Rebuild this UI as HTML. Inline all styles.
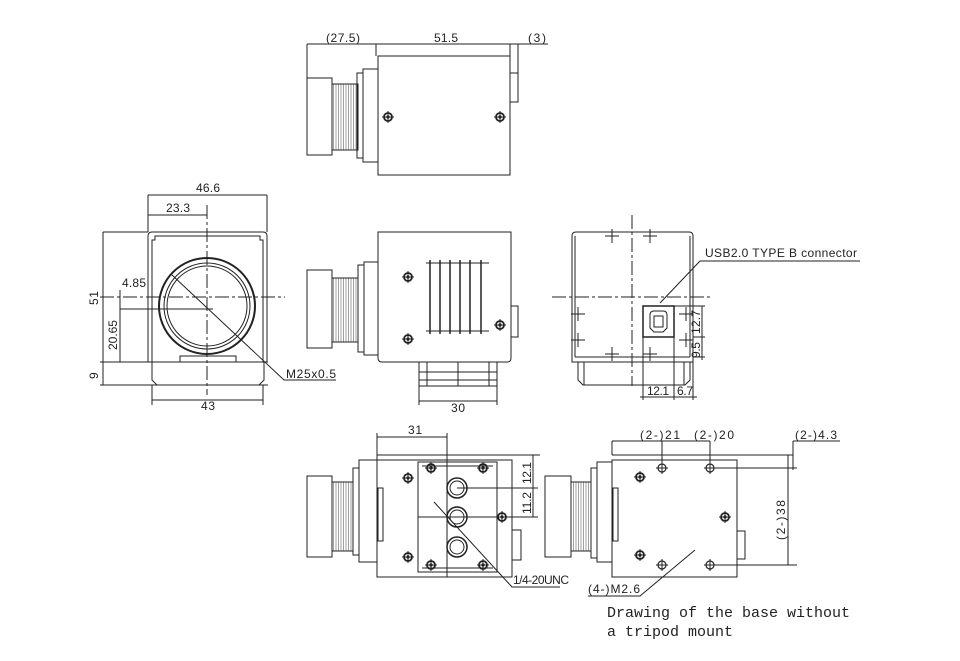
<!DOCTYPE html>
<html><head><meta charset="utf-8"><style>
html,body{margin:0;padding:0;background:#fff;}
svg{display:block}
text{font-family:"Liberation Sans",sans-serif;fill:#222;font-size:12px}
.m{font-family:"Liberation Mono",monospace;font-size:15px}
</style></head><body>
<svg width="960" height="661" viewBox="0 0 960 661" xmlns="http://www.w3.org/2000/svg">
<defs>
<pattern id="th" width="2.5" height="4" patternUnits="userSpaceOnUse"><rect width="2.5" height="4" fill="#fff"/><line x1="1" y1="0" x2="1" y2="4" stroke="#777" stroke-width="0.7"/></pattern>
<g id="scr"><circle r="4" fill="none" stroke="#222" stroke-width="1.8"/><circle r="1.6" fill="#222"/><line x1="-6" y1="0" x2="6" y2="0" stroke="#222"/><line x1="0" y1="-6" x2="0" y2="6" stroke="#222"/></g>
<g id="hol"><circle r="4" fill="none" stroke="#222" stroke-width="1.2"/><line x1="-6" y1="0" x2="6" y2="0" stroke="#222"/><line x1="0" y1="-6" x2="0" y2="6" stroke="#222"/></g>
<g id="crs"><line x1="-7" y1="0" x2="7" y2="0" stroke="#222"/><line x1="0" y1="-7" x2="0" y2="7" stroke="#222"/></g>
</defs>
<g fill="none" stroke="#222" stroke-width="1">
<!-- TOP VIEW -->
<rect x="307" y="78" width="25" height="77"/>
<rect x="332" y="84" width="26" height="66" fill="url(#th)"/>
<rect x="357" y="73" width="6" height="85"/>
<rect x="363" y="69" width="15" height="93"/>
<rect x="378" y="56" width="132" height="119"/>
<rect x="510" y="73" width="8" height="29"/>
<line x1="307" y1="44" x2="548" y2="44"/>
<line x1="307" y1="44" x2="307" y2="78"/>
<line x1="376" y1="44" x2="376" y2="56"/>
<line x1="510" y1="44" x2="510" y2="56"/>
<line x1="518" y1="44" x2="518" y2="73"/>
<!-- FRONT VIEW -->
<path d="M148 362 V236 Q148 232 152 232 H263 Q267 232 267 236 V362"/>
<path d="M152 362 V240 H155 V236 H260 V240 H263 V362"/>
<path d="M152 362 V380 L157 385 H259 L264 380 V362"/>
<line x1="100" y1="362" x2="268" y2="362"/>
<line x1="100" y1="385" x2="268" y2="385"/>
<rect x="180" y="356" width="56" height="6"/>
<circle cx="207" cy="306" r="48" stroke-width="2"/>
<circle cx="207" cy="306" r="43"/>
<circle cx="207" cy="306" r="40"/>
<line x1="100" y1="297" x2="285" y2="297" stroke-dasharray="14,3,3,3"/>
<line x1="207" y1="205" x2="207" y2="395" stroke-dasharray="14,3,3,3"/>
<line x1="120" y1="309" x2="213" y2="309"/>
<line x1="148" y1="195" x2="267" y2="195"/>
<line x1="148" y1="195" x2="148" y2="232"/>
<line x1="267" y1="195" x2="267" y2="232"/>
<line x1="148" y1="215" x2="207" y2="215"/>
<line x1="103" y1="232" x2="148" y2="232"/>
<line x1="103" y1="232" x2="103" y2="385"/>
<line x1="120" y1="290" x2="120" y2="362"/>
<line x1="152" y1="385" x2="152" y2="405"/>
<line x1="263" y1="385" x2="263" y2="405"/>
<line x1="152" y1="400" x2="263" y2="400"/>
<path d="M172 275 L284 380 H336"/>
<!-- SIDE VIEW -->
<rect x="307" y="270" width="25" height="78"/>
<rect x="332" y="278" width="26" height="64" fill="url(#th)"/>
<rect x="358" y="265" width="6" height="87"/>
<rect x="364" y="262" width="14" height="93"/>
<path d="M378 232 H511 V358 Q511 362 507 362 H382 Q378 362 378 358 Z"/>
<rect x="511" y="306" width="7" height="31"/>
<line x1="426" y1="263" x2="489" y2="263"/>
<line x1="426" y1="331" x2="489" y2="331"/>
<g stroke-width="1.5"><line x1="430" y1="260" x2="430" y2="334"/><line x1="440" y1="260" x2="440" y2="334"/><line x1="450" y1="260" x2="450" y2="334"/><line x1="460" y1="260" x2="460" y2="334"/><line x1="470" y1="260" x2="470" y2="334"/><line x1="481" y1="260" x2="481" y2="334"/></g>
<path d="M419 362 V386 H497 V362"/>
<line x1="419" y1="372" x2="497" y2="372"/><line x1="419" y1="380" x2="497" y2="380"/>
<line x1="427" y1="362" x2="427" y2="386"/><line x1="489" y1="362" x2="489" y2="386"/>
<line x1="458" y1="362" x2="458" y2="386"/>
<line x1="419" y1="386" x2="419" y2="405"/><line x1="497" y1="386" x2="497" y2="405"/>
<line x1="419" y1="401" x2="497" y2="401"/>
<!-- RIGHT VIEW -->
<path d="M572 362 V236 Q572 232 576 232 H689 Q693 232 693 236 V362 Z"/>
<line x1="575" y1="357" x2="690" y2="357"/>
<line x1="575" y1="236" x2="575" y2="357"/><line x1="690" y1="236" x2="690" y2="357"/>
<path d="M578 362 V380 L583 385 H685 L690 380 V362"/>
<line x1="584" y1="362" x2="584" y2="385"/><line x1="684" y1="362" x2="684" y2="385"/>
<line x1="632" y1="215" x2="632" y2="386" stroke-dasharray="14,3,3,3"/>
<line x1="552" y1="297" x2="712" y2="297" stroke-dasharray="14,3,3,3"/>
<rect x="643" y="306" width="31" height="31" stroke-width="1.5"/>
<line x1="643" y1="337" x2="643" y2="400"/><line x1="674" y1="337" x2="674" y2="400"/><line x1="693" y1="362" x2="693" y2="400"/>
<path d="M650 315 Q650 311 654 311 H663 Q667 311 667 315 V328 L663 332 H654 L650 328 Z"/>
<rect x="654" y="316" width="9" height="11"/>
<line x1="674" y1="306" x2="705" y2="306"/><line x1="693" y1="337" x2="705" y2="337"/><line x1="693" y1="357" x2="705" y2="357"/>
<line x1="702" y1="306" x2="702" y2="360"/>
<line x1="640" y1="397" x2="697" y2="397"/>
<path d="M660 303 L700 261 H860"/>
<use href="#crs" x="612" y="236"/><use href="#crs" x="650" y="236"/>
<use href="#crs" x="578" y="314"/><use href="#crs" x="578" y="340"/>
<use href="#crs" x="686" y="314"/><use href="#crs" x="686" y="340"/>
<use href="#crs" x="612" y="354"/><use href="#crs" x="650" y="354"/>
<!-- BOTTOM LEFT -->
<rect x="307" y="476" width="25" height="81"/>
<rect x="332" y="482" width="21" height="69" fill="url(#th)"/>
<rect x="353" y="468" width="6" height="87"/>
<rect x="359" y="460" width="18" height="102"/>
<rect x="377" y="460" width="135" height="117"/>
<line x1="377" y1="455" x2="540" y2="455"/>
<line x1="377" y1="455" x2="377" y2="460"/>
<rect x="378" y="488" width="5" height="53"/>
<rect x="418" y="462" width="79" height="110"/>
<line x1="422" y1="466" x2="493" y2="466"/><line x1="422" y1="568" x2="493" y2="568"/>
<rect x="512" y="530" width="9" height="30"/>
<line x1="447" y1="433" x2="447" y2="577"/>
<line x1="418" y1="517" x2="512" y2="517"/>
<line x1="457" y1="488" x2="538" y2="488"/><line x1="500" y1="517" x2="538" y2="517"/>
<line x1="533" y1="455" x2="533" y2="517"/>
<line x1="377" y1="437" x2="447" y2="437"/><line x1="377" y1="433" x2="377" y2="455"/>
<circle cx="457" cy="488" r="10" stroke-width="1.5"/><circle cx="457" cy="488" r="7"/>
<circle cx="457" cy="517" r="10" stroke-width="1.5"/><circle cx="457" cy="517" r="7"/>
<circle cx="457" cy="547" r="10" stroke-width="1.5"/><circle cx="457" cy="547" r="7"/>
<path d="M434 502 L512 587 H560"/>
<!-- BOTTOM RIGHT -->
<rect x="545" y="476" width="26" height="81"/>
<rect x="571" y="482" width="20" height="69" fill="url(#th)"/>
<rect x="591" y="468" width="6" height="90"/>
<rect x="597" y="462" width="15" height="100"/>
<rect x="612" y="460" width="125" height="117"/>
<line x1="612" y1="455" x2="793" y2="455"/>
<rect x="613" y="488" width="5" height="53"/>
<rect x="737" y="531" width="8" height="28"/>
<line x1="612" y1="441" x2="710" y2="441"/>
<line x1="612" y1="441" x2="612" y2="455"/>
<line x1="662" y1="441" x2="662" y2="468"/>
<line x1="710" y1="441" x2="710" y2="468"/>
<line x1="793" y1="441" x2="840" y2="441"/>
<line x1="793" y1="441" x2="793" y2="470"/>
<line x1="710" y1="468" x2="797" y2="468"/><line x1="710" y1="565" x2="797" y2="565"/>
<line x1="788" y1="455" x2="788" y2="565"/>
<path d="M588 596 H640 L695 550"/>
<use href="#hol" x="662" y="468"/><use href="#hol" x="710" y="468"/>
<use href="#hol" x="662" y="565"/><use href="#hol" x="710" y="565"/>
</g>
<g>
<use href="#scr" x="388" y="117"/><use href="#scr" x="500" y="117"/>
<use href="#scr" x="408" y="277"/><use href="#scr" x="408" y="339"/><use href="#scr" x="500" y="325"/>
<use href="#scr" x="408" y="478"/><use href="#scr" x="408" y="557"/><use href="#scr" x="502" y="517"/>
<use href="#scr" x="431" y="468"/><use href="#scr" x="483" y="468"/><use href="#scr" x="431" y="565"/><use href="#scr" x="483" y="565"/>
<use href="#scr" x="640" y="477"/><use href="#scr" x="640" y="555"/><use href="#scr" x="725" y="517"/>
</g>
<text x="326" y="42" textLength="34">(27.5)</text>
<text x="434" y="42" textLength="24">51.5</text>
<text x="528" y="42" textLength="18">(3)</text>
<text x="196" y="192" textLength="24">46.6</text>
<text x="166" y="212" textLength="24">23.3</text>
<text x="122" y="287" textLength="24">4.85</text>
<text transform="translate(98,305) rotate(-90)" textLength="14">51</text>
<text transform="translate(117,350) rotate(-90)" textLength="30">20.65</text>
<text transform="translate(98,379) rotate(-90)">9</text>
<text x="201" y="410" textLength="14">43</text>
<text x="286" y="378" textLength="50">M25x0.5</text>
<text x="451" y="412" textLength="14">30</text>
<text x="705" y="257" textLength="152">USB2.0 TYPE B connector</text>
<text transform="translate(700,334) rotate(-90)" textLength="24">12.7</text>
<text transform="translate(700,358) rotate(-90)" textLength="16">9.5</text>
<text x="647" y="395" textLength="22">12.1</text>
<text x="677" y="395" textLength="16">6.7</text>
<text x="408" y="434" textLength="14">31</text>
<text transform="translate(531,484) rotate(-90)" textLength="22">12.1</text>
<text transform="translate(531,514) rotate(-90)" textLength="22">11.2</text>
<text x="513" y="584" textLength="56">1/4-20UNC</text>
<text x="640" y="439" textLength="40">(2-)21</text>
<text x="694" y="439" textLength="40">(2-)20</text>
<text x="795" y="439" textLength="42">(2-)4.3</text>
<text transform="translate(785,540) rotate(-90)" textLength="40">(2-)38</text>
<text x="588" y="593" textLength="52">(4-)M2.6</text>
<text class="m" x="607" y="617">Drawing of the base without</text>
<text class="m" x="607" y="636">a tripod mount</text>
</svg>
</body></html>
